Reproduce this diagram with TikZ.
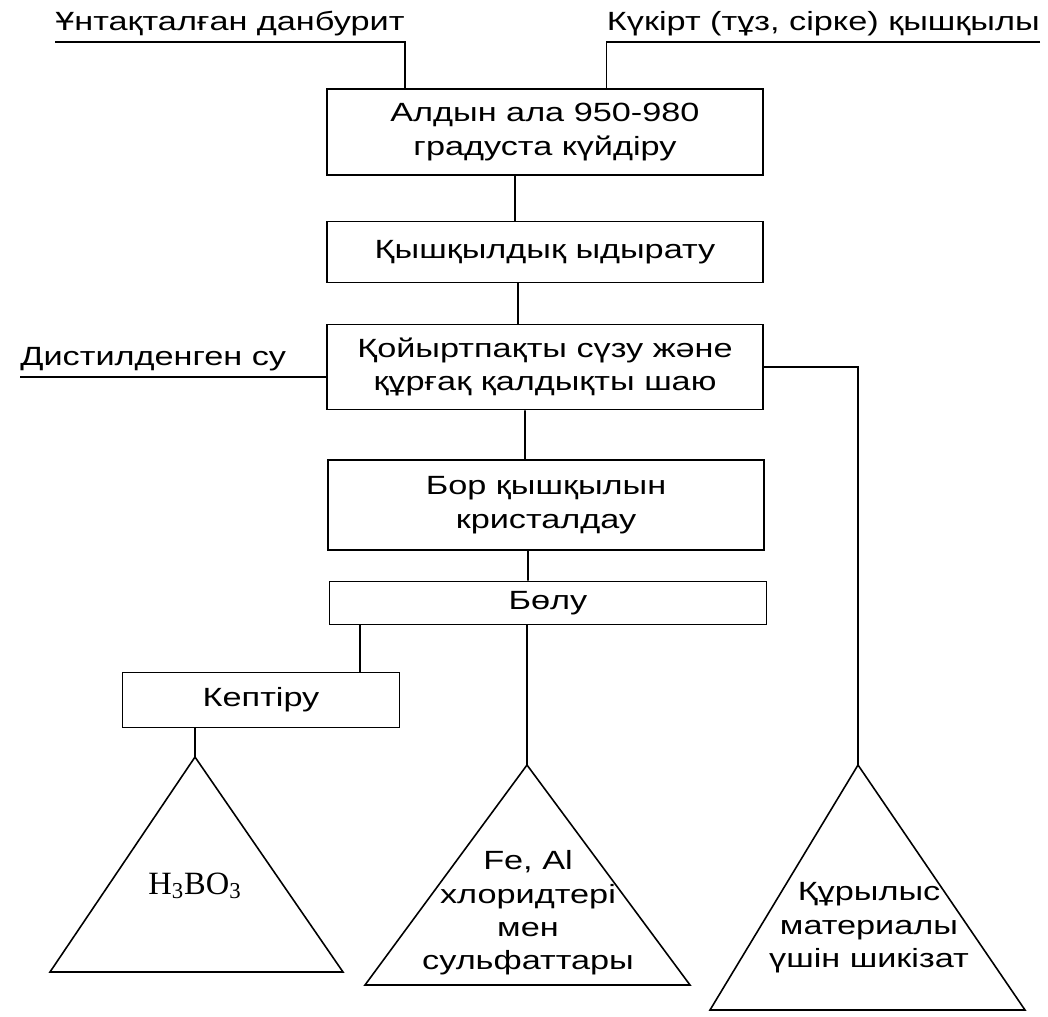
\documentclass[tikz,border=0pt]{standalone}
\usepackage{fontspec}
\setmainfont{Liberation Sans}[FakeStretch=1.3]
\newfontfamily\formulafont{Liberation Serif}

\begin{document}
\begin{tikzpicture}[
    x=0.02cm, y=-0.02cm,
    stage/.style={draw=black, line width=0.9pt, fill=white,
        minimum width=8.72cm, inner sep=2pt, align=center,
        font=\fontsize{15}{19}\selectfont},
    feed/.style={inner xsep=0pt, inner ysep=3pt,
        font=\fontsize{15}{19}\selectfont},
    inlabel/.style={align=center, inner sep=1pt,
        font=\fontsize{15}{19}\selectfont},
    cone/.style={draw=black, line width=0.9pt},
    link/.style={line width=0.9pt, -}
]
    \useasboundingbox (0,0) rectangle (1048,1017);

    \node[stage, minimum height=1.72cm] (calc) at (545,132) {Алдын ала 950-980\\градуста күйдіру};
    \node[stage, minimum height=1.22cm] (decomp) at (545,252) {Қышқылдық ыдырату};
    \node[stage, minimum height=1.7cm] (filter) at (545,367) {Қойыртпақты сүзу және\\құрғақ қалдықты шаю};
    \node[stage, minimum height=1.8cm] (cryst) at (546,505) {Бор қышқылын\\кристалдау};
    \node[stage, minimum height=0.86cm, minimum width=8.74cm] (sep) at (548,603) {Бөлу};
    \node[stage, minimum height=1.1cm, minimum width=5.54cm] (dry) at (261,700) {Кептіру};

    \node[feed, anchor=south west] (ore) at (55,42) {Ұнтақталған данбурит};
    \node[feed, anchor=south east] (acid) at (1040,42) {Күкірт (тұз, сірке) қышқылы};
    \node[feed, anchor=south west] (water) at (20,377) {Дистилденген су};

    \coordinate (apexA) at (195,757);
    \coordinate (apexB) at (527,765);
    \coordinate (apexC) at (858,765);
    \draw[cone] (apexA) -- (343,972) -- (50,972) -- cycle;
    \draw[cone] (apexB) -- (690,985) -- (365,985) -- cycle;
    \draw[cone] (apexC) -- (1025,1010) -- (710,1010) -- cycle;
    \node[inlabel, font=\fontsize{18.5}{20}\selectfont] (boric) at (195,886) {\formulafont H\textsubscript{3}BO\textsubscript{3}};
    \node[inlabel] (salts) at (528,913) {Fe, Al\\хлоридтері\\мен\\сульфаттары};
    \node[inlabel] (build) at (869,928) {Құрылыс\\материалы\\үшін шикізат};

    \draw[link] (ore.south west) -- (ore.south east) -- (ore.south east |- calc.north);
    \draw[link] (acid.south east) -- (acid.south west) -- (acid.south west |- calc.north);
    \draw[link] ([xshift=-0.6cm]calc.south) -- ([xshift=-0.6cm]decomp.north);
    \draw[link] ([xshift=-0.54cm]decomp.south) -- ([xshift=-0.54cm]filter.north);
    \draw[link] (water.south west) -- (water.south west -| filter.west);
    \draw[link] ([xshift=-0.4cm]filter.south) -- ([xshift=-0.42cm]cryst.north);
    \draw[link] ([xshift=-0.36cm]cryst.south) -- ([xshift=-0.4cm]sep.north);
    \draw[link] (filter.east) -- (filter.east -| apexC) -- (apexC);
    \path ([xshift=1.98cm]dry.north) coordinate (drytop);
    \draw[link] (drytop) -- (drytop |- sep.south);
    \draw[link] (apexA |- dry.south) -- (apexA);
    \draw[link] (apexB |- sep.south) -- (apexB);
\end{tikzpicture}
\end{document}
